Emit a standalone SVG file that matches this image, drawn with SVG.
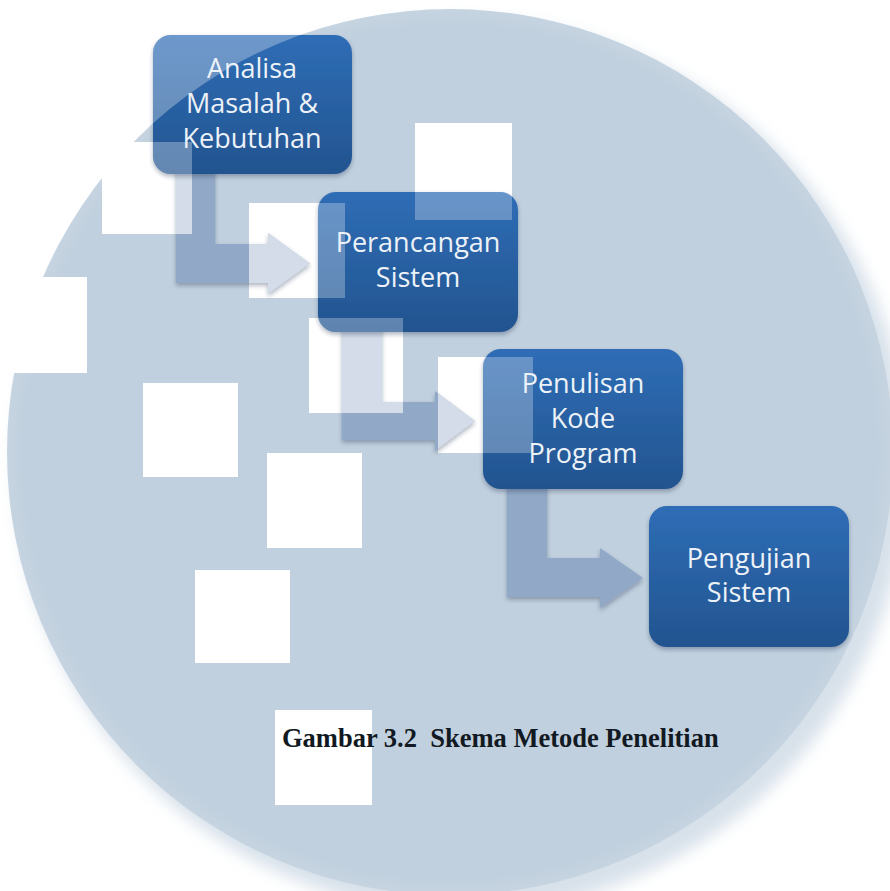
<svg xmlns="http://www.w3.org/2000/svg" xmlns:xlink="http://www.w3.org/1999/xlink" width="890" height="891" viewBox="0 0 890 891">
  <style>
    .lbl { font-family: "Open Sans", "Noto Sans", "Liberation Sans", sans-serif; font-size: 27px; fill: #edf2f8; text-anchor: middle; }
    .cap { font-family: "Liberation Serif", "Times New Roman", serif; font-size: 26.5px; font-weight: bold; fill: #111922; white-space: pre; }
  </style>
  <defs>
    <radialGradient id="disc" cx="450" cy="452" r="443" gradientUnits="userSpaceOnUse">
      <stop offset="0.96" stop-color="#c1d0de"/>
      <stop offset="1" stop-color="#c6d4e1"/>
    </radialGradient>
    <linearGradient id="boxg" x1="0" y1="0" x2="0" y2="1">
      <stop offset="0" stop-color="#2f6db6"/>
      <stop offset="1" stop-color="#22548f"/>
    </linearGradient>
    <filter id="sh" x="-10%" y="-10%" width="120%" height="130%">
      <feDropShadow dx="0" dy="2.5" stdDeviation="2" flood-color="#1c2f48" flood-opacity="0.35"/>
    </filter>
    <filter id="soft" x="-10%" y="-10%" width="120%" height="120%">
      <feGaussianBlur stdDeviation="8"/>
    </filter>
    <g id="squares">
      <rect x="102" y="142" width="90" height="92"/>
      <rect x="-8" y="277" width="95" height="96"/>
      <rect x="143" y="383" width="95" height="94"/>
      <rect x="249" y="203" width="96" height="95"/>
      <rect x="415" y="123" width="97" height="97"/>
      <rect x="309" y="318" width="94" height="95"/>
      <rect x="438" y="357" width="95" height="96"/>
      <rect x="267" y="453" width="95" height="95"/>
      <rect x="195" y="570" width="95" height="93"/>
      <rect x="275" y="710" width="97" height="95"/>
    </g>
    <mask id="holes" maskUnits="userSpaceOnUse" x="0" y="0" width="890" height="891">
      <rect x="0" y="0" width="890" height="891" fill="#fff"/>
      <circle cx="450" cy="452" r="443" fill="#000"/>
      <use href="#squares" fill="#fff"/>
    </mask>
  </defs>

  <rect x="0" y="0" width="890" height="891" fill="#ffffff"/>
  <ellipse id="disc-soft" cx="462" cy="466" rx="446" ry="446" fill="#c6d4e1" opacity="0.7" filter="url(#soft)"/>
  <circle id="disc-bg" cx="450" cy="452" r="443" fill="url(#disc)"/>
  <use id="white-squares" href="#squares" fill="#ffffff"/>

  <g id="connectors" fill="#91a8c6" filter="url(#sh)">
    <path id="c1" d="M176,168 L215,168 L215,244 L268,244 L268,233 L310,263.5 L268,294 L268,283 L176,283 Z"/>
    <path id="c2" d="M342,326 L382,326 L382,402 L435,402 L435,391 L475,421 L435,451 L435,440 L342,440 Z"/>
    <path id="c3" d="M507,483 L547,483 L547,558 L600,558 L600,548 L643,578 L600,608 L600,597 L507,597 Z"/>
  </g>
  <g id="connector-highlight" fill="#ffffff" fill-opacity="0.6" mask="url(#holes)">
    <use href="#c1"/>
    <use href="#c2"/>
    <use href="#c3"/>
  </g>

  <g id="node1">
    <rect x="153" y="35" width="199" height="139" rx="18" fill="url(#boxg)" filter="url(#sh)"/>
    <rect x="153" y="35" width="199" height="139" rx="18" fill="#ffffff" fill-opacity="0.3" mask="url(#holes)"/>
    <text class="lbl" x="252" y="78">Analisa</text>
    <text class="lbl" x="252" y="113">Masalah &amp;</text>
    <text class="lbl" x="252" y="148">Kebutuhan</text>
  </g>
  <g id="node2">
    <rect x="318" y="192" width="200" height="140" rx="18" fill="url(#boxg)" filter="url(#sh)"/>
    <rect x="318" y="192" width="200" height="140" rx="18" fill="#ffffff" fill-opacity="0.28" mask="url(#holes)"/>
    <text class="lbl" x="418" y="252">Perancangan</text>
    <text class="lbl" x="418" y="287">Sistem</text>
  </g>
  <g id="node3">
    <rect x="483" y="349" width="200" height="140" rx="18" fill="url(#boxg)" filter="url(#sh)"/>
    <rect x="483" y="349" width="200" height="140" rx="18" fill="#ffffff" fill-opacity="0.28" mask="url(#holes)"/>
    <text class="lbl" x="583" y="393">Penulisan</text>
    <text class="lbl" x="583" y="428">Kode</text>
    <text class="lbl" x="583" y="463">Program</text>
  </g>
  <g id="node4">
    <rect x="649" y="506" width="200" height="141" rx="18" fill="url(#boxg)" filter="url(#sh)"/>
    <rect x="649" y="506" width="200" height="141" rx="18" fill="#ffffff" fill-opacity="0.28" mask="url(#holes)"/>
    <text class="lbl" x="749" y="568">Pengujian</text>
    <text class="lbl" x="749" y="602">Sistem</text>
  </g>

  <text class="cap" x="282" y="747" xml:space="preserve">Gambar 3.2  Skema Metode Penelitian</text>
</svg>
